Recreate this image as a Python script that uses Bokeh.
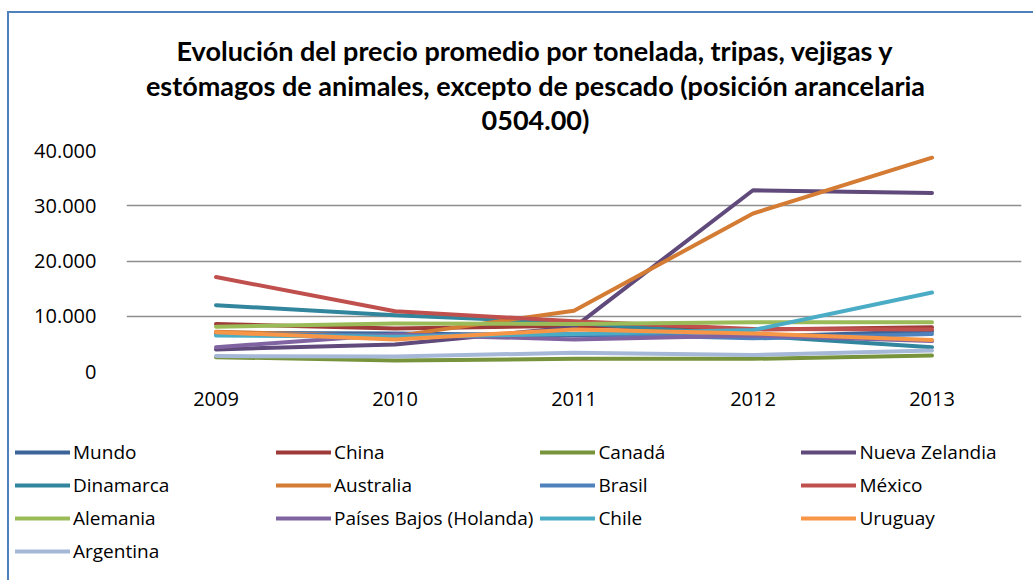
from bokeh.plotting import figure
from bokeh.models import (FactorRange, Range1d, FixedTicker, CustomJSTickFormatter,
                          Legend, LegendItem, Label)
from bokeh.embed import file_html
from bokeh.resources import INLINE

years = ["2009", "2010", "2011", "2012", "2013"]

mundo = [7000, 6900, 6500, 6300, 7300]
china = [8600, 7800, 8300, 7600, 8000]
canada = [2600, 2000, 2300, 2300, 2900]
nueva_zelandia = [4000, 4900, 8000, 32800, 32300]
dinamarca = [12000, 10200, 8800, 6500, 4400]
australia = [7200, 6400, 11000, 28600, 38700]
brasil = [6800, 6500, 6800, 6000, 6800]
mexico = [17100, 10900, 9100, 7700, 7600]
alemania = [8100, 8700, 8600, 8900, 8900]
paises_bajos = [4400, 6700, 5800, 6500, 5500]
chile = [6500, 6300, 6800, 7500, 14300]
uruguay = [7100, 5800, 7600, 6900, 5700]
argentina = [2800, 2700, 3400, 3000, 3800]

series_names = ["Mundo", "China", "Canadá", "Nueva Zelandia", "Dinamarca", "Australia",
                "Brasil", "México", "Alemania", "Países Bajos (Holanda)", "Chile",
                "Uruguay", "Argentina"]
series_values = [mundo, china, canada, nueva_zelandia, dinamarca, australia, brasil,
                 mexico, alemania, paises_bajos, chile, uruguay, argentina]
series_colors = ["#3A649A", "#9E3B38", "#77933C", "#604A7B", "#31859C", "#D47B34",
                 "#4F81BD", "#C0504D", "#9BBB59", "#8064A2", "#4BACC6", "#F79646",
                 "#A5B8D7"]

title_lines = ["Evolución del precio promedio por tonelada, tripas, vejigas y",
               "estómagos de animales, excepto de pescado (posición arancelaria",
               "0504.00)"]

W = 1026
BORDER = "2px solid #4F81BD"

# ---- title panel ----
t = figure(width=W, height=124, x_range=Range1d(0, 1), y_range=Range1d(0, 1),
           output_backend="svg", toolbar_location=None, title_location=None,
           x_axis_location=None, y_axis_location=None,
           min_border_left=0, min_border_right=0, min_border_top=0, min_border_bottom=0,
           styles={"margin-left": "7px", "margin-top": "11px",
                   "border-left": BORDER, "border-top": BORDER})
t.grid.visible = False
t.outline_line_color = None
t.border_fill_color = "white"
for txt, yy in zip(title_lines, [87, 52, 18]):
    t.add_layout(Label(x=526, y=yy, x_units="screen", y_units="screen", text=txt,
                       text_align="center", text_baseline="middle", text_font="Lato",
                       text_font_size="27px", text_font_style="bold", text_color="#000000"))

# ---- main chart ----
p = figure(width=W, height=288, x_range=FactorRange(*years), y_range=Range1d(0, 40000),
           output_backend="svg", toolbar_location=None, title_location=None,
           min_border_left=117, min_border_right=14, min_border_top=15, min_border_bottom=52,
           styles={"margin-left": "7px", "border-left": BORDER})
p.outline_line_color = None
p.background_fill_color = "white"
p.border_fill_color = "white"

for name, vals, col in zip(series_names, series_values, series_colors):
    p.line(years, vals, line_color=col, line_width=4, line_cap="round", line_join="round")

p.xgrid.grid_line_color = None
p.ygrid.grid_line_color = "#8E8E8E"
p.ygrid.grid_line_width = 1.5

p.yaxis.ticker = FixedTicker(ticks=[0, 10000, 20000, 30000, 40000])
p.yaxis.formatter = CustomJSTickFormatter(
    code="return Math.round(tick).toString().replace(/\\B(?=(\\d{3})+(?!\\d))/g, '.');")
for ax in (p.xaxis[0], p.yaxis[0]):
    ax.axis_line_color = None
    ax.major_tick_line_color = None
    ax.minor_tick_line_color = None
    ax.major_label_text_font = "Open Sans"
    ax.major_label_text_font_size = "20px"
    ax.major_label_text_color = "#000000"
p.yaxis.major_label_standoff = 24
p.xaxis.major_label_standoff = 14

# ---- legend panel ----
q = figure(width=W, height=157, x_range=FactorRange(*years), y_range=Range1d(-2, -1),
           output_backend="svg", toolbar_location=None, title_location=None,
           x_axis_location=None, y_axis_location=None,
           min_border_left=0, min_border_right=0, min_border_top=0, min_border_bottom=0,
           styles={"margin-left": "7px", "border-left": BORDER})
q.grid.visible = False
q.outline_line_color = None
q.border_fill_color = "white"
items = []
for name, vals, col in zip(series_names, series_values, series_colors):
    lr = q.line(years, vals, line_color=col, line_width=4, line_cap="round", line_join="round")
    items.append(LegendItem(label=name, renderers=[lr]))

legend = Legend(items=items, orientation="horizontal", ncols=4, location=(6, 16),
                glyph_width=55, glyph_height=20, label_height=20, label_width=196,
                label_standoff=3, spacing=7, padding=0, margin=0,
                border_line_color=None, background_fill_alpha=0,
                label_text_font="Open Sans", label_text_font_size="19px",
                label_text_color="#000000")
q.add_layout(legend)

open("out.html", "w").write(file_html([t, p, q], INLINE))
